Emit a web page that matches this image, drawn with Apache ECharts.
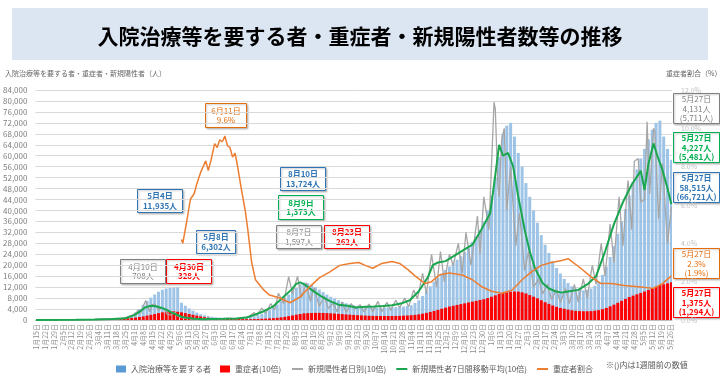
<!DOCTYPE html>
<html>
<head>
<meta charset="utf-8">
<script src="https://cdn.jsdelivr.net/npm/echarts@6/dist/echarts.min.js"></script>
<style>
  html, body { margin: 0; padding: 0; background: #fff; }
  #chart { width: 720px; height: 376px; }
</style>
</head>
<body>
<div id="chart"></div>
<script>
const startDate = '2020-01-15';
const endDate = '2021-05-27';

// 入院治療等を要する者: one reading every 3 days from startDate
const barStep = 3;
const hospitalized = [
  0, 0, 0, 10, 15, 20, 20, 25, 30, 40, 60, 80, 120, 150, 180, 220, 260, 300, 350, 400, 450, 550, 650, 800, 1000,
  1800, 2800, 4000, 5500, 7000, 8200, 9300, 10300, 11000, 11500, 11700, 11800, 11935,
  6302, 5200, 4200, 3400, 2700, 2100, 1700, 1400, 1150, 1000, 900, 850, 800, 780, 780, 800, 850, 950, 1100,
  1400, 1800, 2300, 2900, 3600, 4500, 5700, 6900, 8100, 9300, 10500, 11700, 13000, 13700,
  13400, 12800, 12000, 11100, 10200, 9300, 8500, 7800, 7200, 6600, 6100, 5700, 5400, 5100, 4900, 4800, 4700, 4600, 4500, 4500,
  4500, 4600, 4600, 4700, 4800, 4900, 5100, 5400, 6200, 7200,
  8800, 10500, 12300, 14000, 15500, 17000, 18300, 19500, 20700, 22000, 23300, 24800, 26500, 28500, 30500, 33000, 36000,
  40000, 45500, 52000, 59500, 68000, 71000, 72000,
  67000, 61000, 56000, 50000, 45000, 40000, 35500, 31000, 27500, 24500,
  21500, 19000, 17000, 15000, 13500, 12300, 11500, 11000, 10800, 11000,
  11500, 12500, 14000, 16500, 19500, 23000, 27000, 31500, 36000, 40500,
  45500, 50500, 55000, 59000, 62500, 66000, 69500, 72000, 72800, 67000,
  62500, 58515
];

// 重症者 (drawn x10), same 3-day steps
const severe = [
  0, 0, 0, 0, 0, 0, 0, 0, 1, 2, 4, 6, 10, 13, 17, 20, 25, 30, 35, 40, 45, 50, 55, 60, 65,
  75, 90, 110, 130, 160, 190, 220, 250, 280, 305, 325, 320, 300,
  280, 250, 220, 190, 160, 130, 105, 85, 72, 63, 57, 52, 47, 42, 38, 35, 33, 32, 32,
  34, 38, 43, 50, 58, 68, 80, 95, 115, 140, 165, 195, 220, 240,
  250, 256, 260, 262, 258, 252, 244, 235, 225, 215, 205, 195, 185, 175, 168, 160, 155, 150, 148, 146,
  145, 145, 146, 148, 152, 158, 165, 175, 188, 205,
  230, 260, 295, 330, 370, 410, 450, 490, 520, 550, 580, 610, 640, 670, 700, 730, 760,
  800, 850, 900, 950, 990, 1010, 1030,
  1040, 1035, 1010, 970, 910, 850, 790, 720, 650, 590,
  530, 480, 440, 410, 380, 355, 335, 325, 320, 320,
  325, 340, 360, 395, 440, 500, 560, 630, 700, 770,
  840, 890, 940, 990, 1040, 1100, 1160, 1220, 1280, 1305,
  1340, 1375
];

// 新規陽性者日別 (drawn x10)
const dailyNew = [
  ['2020-01-15', 1], ['2020-01-24', 1], ['2020-01-30', 3], ['2020-02-05', 5], ['2020-02-13', 5], ['2020-02-20', 12],
  ['2020-02-26', 15], ['2020-03-01', 20], ['2020-03-05', 35], ['2020-03-09', 30], ['2020-03-13', 45], ['2020-03-17', 30],
  ['2020-03-21', 50], ['2020-03-24', 70], ['2020-03-27', 120], ['2020-03-30', 170], ['2020-04-02', 240], ['2020-04-04', 360],
  ['2020-04-06', 250], ['2020-04-08', 510], ['2020-04-10', 708], ['2020-04-11', 700], ['2020-04-13', 300], ['2020-04-15', 550],
  ['2020-04-17', 580], ['2020-04-20', 370], ['2020-04-22', 440], ['2020-04-24', 430], ['2020-04-27', 200], ['2020-04-30', 190],
  ['2020-05-02', 290], ['2020-05-04', 180], ['2020-05-07', 100], ['2020-05-10', 80], ['2020-05-13', 60], ['2020-05-16', 40],
  ['2020-05-20', 30], ['2020-05-25', 25], ['2020-05-29', 60], ['2020-06-02', 50], ['2020-06-06', 40], ['2020-06-10', 40],
  ['2020-06-14', 70], ['2020-06-18', 50], ['2020-06-22', 60], ['2020-06-26', 100], ['2020-06-29', 90], ['2020-07-02', 200],
  ['2020-07-04', 270], ['2020-07-06', 180], ['2020-07-10', 430], ['2020-07-13', 250], ['2020-07-17', 600], ['2020-07-20', 370],
  ['2020-07-23', 980], ['2020-07-27', 600], ['2020-07-31', 1580], ['2020-08-03', 960], ['2020-08-07', 1597], ['2020-08-10', 820],
  ['2020-08-14', 1360], ['2020-08-17', 680], ['2020-08-20', 1180], ['2020-08-24', 500], ['2020-08-28', 860], ['2020-08-31', 430],
  ['2020-09-04', 600], ['2020-09-07', 300], ['2020-09-11', 660], ['2020-09-14', 280], ['2020-09-18', 600], ['2020-09-21', 400],
  ['2020-09-25', 560], ['2020-09-28', 300], ['2020-10-02', 580], ['2020-10-05', 300], ['2020-10-09', 680], ['2020-10-12', 300],
  ['2020-10-16', 650], ['2020-10-19', 360], ['2020-10-23', 720], ['2020-10-26', 450], ['2020-10-30', 800], ['2020-11-02', 480],
  ['2020-11-06', 1100], ['2020-11-09', 770], ['2020-11-13', 1700], ['2020-11-16', 950], ['2020-11-20', 2400], ['2020-11-24', 1200],
  ['2020-11-27', 2500], ['2020-11-30', 1400], ['2020-12-04', 2400], ['2020-12-07', 2000], ['2020-12-11', 2800], ['2020-12-14', 1700],
  ['2020-12-17', 3200], ['2020-12-21', 2000], ['2020-12-26', 3800], ['2020-12-28', 2400], ['2020-12-31', 4500], ['2021-01-04', 3300],
  ['2021-01-08', 7955], ['2021-01-09', 7700], ['2021-01-11', 4900], ['2021-01-12', 4500], ['2021-01-14', 6600], ['2021-01-16', 7000],
  ['2021-01-18', 4000], ['2021-01-21', 5600], ['2021-01-25', 2700], ['2021-01-28', 3900], ['2021-02-01', 1800], ['2021-02-04', 2500],
  ['2021-02-08', 1200], ['2021-02-12', 1500], ['2021-02-15', 950], ['2021-02-19', 1300], ['2021-02-22', 750], ['2021-02-26', 1100],
  ['2021-03-01', 650], ['2021-03-05', 1150], ['2021-03-08', 600], ['2021-03-12', 1300], ['2021-03-15', 650], ['2021-03-19', 1500],
  ['2021-03-22', 800], ['2021-03-26', 2000], ['2021-03-29', 1300], ['2021-04-02', 2800], ['2021-04-05', 1600], ['2021-04-09', 3500],
  ['2021-04-12', 2100], ['2021-04-16', 4500], ['2021-04-19', 2700], ['2021-04-23', 5100], ['2021-04-26', 3300], ['2021-04-28', 5800],
  ['2021-05-01', 5900], ['2021-05-03', 4300], ['2021-05-06', 4400], ['2021-05-08', 7244], ['2021-05-10', 4600], ['2021-05-13', 7000],
  ['2021-05-14', 6900], ['2021-05-17', 3700], ['2021-05-20', 5711], ['2021-05-21', 5700], ['2021-05-24', 2800], ['2021-05-27', 4131]
];

// 新規陽性者7日間移動平均 (drawn x10)
const weeklyAvg = [
  ['2020-01-15', 0], ['2020-02-15', 7], ['2020-03-01', 15], ['2020-03-15', 35], ['2020-03-25', 60], ['2020-04-01', 180],
  ['2020-04-05', 300], ['2020-04-10', 470], ['2020-04-14', 520], ['2020-04-18', 500], ['2020-04-22', 450], ['2020-04-26', 380],
  ['2020-04-30', 280], ['2020-05-04', 200], ['2020-05-08', 120], ['2020-05-12', 80], ['2020-05-18', 45], ['2020-05-25', 30],
  ['2020-06-01', 40], ['2020-06-10', 45], ['2020-06-20', 55], ['2020-06-28', 90], ['2020-07-05', 200], ['2020-07-12', 330],
  ['2020-07-19', 500], ['2020-07-26', 800], ['2020-08-02', 1100], ['2020-08-06', 1320], ['2020-08-09', 1373], ['2020-08-13', 1280],
  ['2020-08-18', 1100], ['2020-08-25', 880], ['2020-09-01', 700], ['2020-09-08', 560], ['2020-09-15', 520], ['2020-09-22', 460],
  ['2020-09-29', 480], ['2020-10-06', 490], ['2020-10-13', 510], ['2020-10-20', 540], ['2020-10-27', 600], ['2020-11-03', 720],
  ['2020-11-10', 1050], ['2020-11-17', 1550], ['2020-11-21', 2000], ['2020-11-25', 2100], ['2020-12-01', 2150], ['2020-12-08', 2350],
  ['2020-12-15', 2550], ['2020-12-22', 2750], ['2020-12-29', 3300], ['2021-01-05', 3900], ['2021-01-09', 5300], ['2021-01-12', 6400],
  ['2021-01-15', 6000], ['2021-01-19', 6100], ['2021-01-23', 5600], ['2021-01-27', 4500], ['2021-02-01', 3300], ['2021-02-05', 2500],
  ['2021-02-09', 1900], ['2021-02-15', 1350], ['2021-02-20', 1150], ['2021-02-25', 1050], ['2021-03-02', 1000], ['2021-03-08', 1050],
  ['2021-03-15', 1100], ['2021-03-22', 1300], ['2021-03-29', 1600], ['2021-04-05', 2500], ['2021-04-12', 3500], ['2021-04-19', 4300],
  ['2021-04-26', 4950], ['2021-05-01', 5300], ['2021-05-03', 5450], ['2021-05-06', 4750], ['2021-05-09', 5700], ['2021-05-13', 6450],
  ['2021-05-16', 6000], ['2021-05-20', 5481], ['2021-05-24', 4800], ['2021-05-27', 4227]
];

// 重症者割合 (%)
const severeRate = [
  ['2020-05-08', 4.2], ['2020-05-09', 4.0], ['2020-05-12', 5.1], ['2020-05-15', 6.3], ['2020-05-18', 6.6], ['2020-05-20', 7.1],
  ['2020-05-23', 7.7], ['2020-05-25', 8.0], ['2020-05-27', 8.3], ['2020-05-29', 7.8], ['2020-05-31', 8.3], ['2020-06-03', 9.2],
  ['2020-06-05', 9.0], ['2020-06-07', 9.4], ['2020-06-09', 9.3], ['2020-06-11', 9.6], ['2020-06-13', 9.1], ['2020-06-15', 9.0],
  ['2020-06-17', 8.5], ['2020-06-19', 8.7], ['2020-06-21', 8.0], ['2020-06-24', 6.8], ['2020-06-27', 5.7], ['2020-06-29', 4.7],
  ['2020-07-02', 3.0], ['2020-07-05', 2.1], ['2020-07-11', 1.6], ['2020-07-16', 1.3], ['2020-07-24', 1.15], ['2020-08-01', 0.9],
  ['2020-08-09', 1.2], ['2020-08-16', 1.7], ['2020-08-24', 2.2], ['2020-09-01', 2.5], ['2020-09-09', 2.85], ['2020-09-17', 2.95],
  ['2020-09-24', 3.0], ['2020-09-29', 2.85], ['2020-10-05', 2.7], ['2020-10-12', 2.95], ['2020-10-20', 3.05], ['2020-10-26', 2.95],
  ['2020-11-02', 2.6], ['2020-11-07', 2.3], ['2020-11-15', 1.9], ['2020-11-20', 2.0], ['2020-11-26', 2.35], ['2020-12-04', 2.45],
  ['2020-12-14', 2.35], ['2020-12-22', 2.1], ['2020-12-29', 1.75], ['2021-01-06', 1.5], ['2021-01-14', 1.4], ['2021-01-22', 1.55],
  ['2021-01-30', 2.1], ['2021-02-06', 2.5], ['2021-02-14', 2.85], ['2021-02-22', 3.0], ['2021-03-02', 3.1], ['2021-03-07', 3.2],
  ['2021-03-17', 2.7], ['2021-03-25', 2.25], ['2021-04-02', 1.9], ['2021-04-10', 1.9], ['2021-04-20', 1.8], ['2021-05-01', 1.73],
  ['2021-05-13', 1.65], ['2021-05-20', 1.9], ['2021-05-27', 2.3]
];

const seriesNames = ['入院治療等を要する者', '重症者(10倍)', '新規陽性者日別(10倍)', '新規陽性者7日間移動平均(10倍)', '重症者割合'];

// annotation boxes: [x, y, w, h, text, color, bold]
const notes = [
  [205, 103, 41, 24, '6月11日\n9.6%', '#e46c0a', false],
  [137, 189, 45, 23, '5月4日\n11,935人', '#2e75b6', true],
  [196, 230, 39, 23, '5月8日\n6,302人', '#2e75b6', true],
  [120, 259, 45, 24, '4月10日\n708人', '#7f7f7f', false],
  [166, 259, 45, 24, '4月30日\n328人', '#ff0000', true],
  [280, 167, 45, 23, '8月10日\n13,724人', '#2e75b6', true],
  [278, 195, 45, 24, '8月9日\n1,373人', '#00b050', true],
  [276, 225, 45, 23, '8月7日\n1,597人', '#7f7f7f', false],
  [324, 225, 45, 23, '8月23日\n262人', '#ff0000', true],
  [673, 93, 46, 30, '5月27日\n4,131人\n(5,711人)', '#7f7f7f', false],
  [673, 132, 46, 30, '5月27日\n4,227人\n(5,481人)', '#00b050', true],
  [673, 172, 46, 30, '5月27日\n58,515人\n(66,721人)', '#2e75b6', true],
  [673, 248, 46, 30, '5月27日\n2.3%\n(1.9%)', '#e46c0a', false],
  [673, 287, 46, 30, '5月27日\n1,375人\n(1,294人)', '#ff0000', true]
];

const DAY = 86400000;
const t0 = Date.parse(startDate + 'T00:00:00Z');
const t1 = Date.parse(endDate + 'T00:00:00Z');
const days = [];
for (let t = t0; t <= t1; t += DAY) days.push(new Date(t).toISOString().slice(0, 10));
const idx = (d) => Math.round((Date.parse(d + 'T00:00:00Z') - t0) / DAY);

const font = '"Noto Sans CJK JP", "Noto Sans", sans-serif';
const chart = echarts.init(document.getElementById('chart'));

const noteGraphics = notes.map(([x, y, w, h, text, color, bold]) => ({
  type: 'group',
  left: x,
  top: y,
  z: 100,
  children: [
    {
      type: 'rect',
      shape: { x: 0, y: 0, width: w, height: h },
      style: { fill: '#fff', stroke: color, lineWidth: 1, shadowBlur: 2, shadowOffsetX: 1, shadowOffsetY: 1, shadowColor: 'rgba(0,0,0,0.25)' }
    },
    {
      type: 'text',
      x: w / 2,
      y: h / 2,
      style: {
        text: text,
        fill: color,
        font: (bold ? 'bold ' : '') + '8px ' + font,
        align: 'center',
        verticalAlign: 'middle',
        lineHeight: 9.5
      }
    }
  ]
}));

const legendText = { fontSize: 8, color: '#595959' };

const option = {
  animation: false,
  textStyle: { fontFamily: font },
  grid: { left: 31, right: 48, top: 90, bottom: 56 },
  legend: [
    {
      left: 111,
      top: 360,
      itemWidth: 10,
      itemHeight: 7,
      itemGap: 9,
      icon: 'rect',
      textStyle: legendText,
      data: [
        { name: seriesNames[0], itemStyle: { color: '#5b9bd5' } },
        { name: seriesNames[1] }
      ]
    },
    {
      left: 287,
      top: 360,
      itemWidth: 11,
      itemHeight: 2,
      itemGap: 10,
      icon: 'rect',
      textStyle: legendText,
      data: [seriesNames[2], seriesNames[3], seriesNames[4]]
    }
  ],
  xAxis: {
    type: 'category',
    data: days,
    axisLine: { lineStyle: { color: '#bfbfbf' } },
    axisTick: { show: false },
    axisLabel: {
      interval: 6,
      rotate: 90,
      fontSize: 7,
      color: '#8c8c8c',
      margin: 4,
      formatter: (v) => +v.slice(5, 7) + '月' + +v.slice(8, 10) + '日'
    }
  },
  yAxis: [
    {
      type: 'value',
      min: 0,
      max: 84000,
      interval: 4000,
      axisLine: { show: false },
      axisTick: { show: false },
      axisLabel: { fontSize: 8, color: '#7f7f7f', margin: 8, formatter: (v) => v.toLocaleString('en-US') },
      splitLine: { lineStyle: { color: '#d9d9d9' } }
    },
    {
      type: 'value',
      min: 0,
      max: 12,
      interval: 2,
      axisLine: { show: false },
      axisTick: { show: false },
      axisLabel: { fontSize: 7, color: '#bfbfbf', margin: 9, formatter: (v) => v.toFixed(1) + '%' },
      splitLine: { show: false }
    }
  ],
  series: [
    {
      name: seriesNames[0],
      type: 'bar',
      barWidth: 3,
      barGap: '-100%',
      itemStyle: { color: '#9dc3e6' },
      data: hospitalized.map((v, i) => [i * barStep, v]),
      z: 1
    },
    {
      name: seriesNames[1],
      type: 'bar',
      barWidth: 3,
      barGap: '-100%',
      itemStyle: { color: '#ff0000' },
      data: severe.map((v, i) => [i * barStep, v * 10]),
      z: 2
    },
    {
      name: seriesNames[2],
      type: 'line',
      symbol: 'none',
      lineStyle: { color: '#a6a6a6', width: 1.3 },
      itemStyle: { color: '#a6a6a6' },
      data: dailyNew.map(([d, v]) => [idx(d), v * 10]),
      z: 3
    },
    {
      name: seriesNames[3],
      type: 'line',
      symbol: 'none',
      lineStyle: { color: '#1aa64f', width: 2 },
      itemStyle: { color: '#1aa64f' },
      data: weeklyAvg.map(([d, v]) => [idx(d), v * 10]),
      z: 4
    },
    {
      name: seriesNames[4],
      type: 'line',
      yAxisIndex: 1,
      symbol: 'none',
      lineStyle: { color: '#ed7d31', width: 1.5 },
      itemStyle: { color: '#ed7d31' },
      data: severeRate.map(([d, v]) => [idx(d), v]),
      z: 5
    }
  ],
  graphic: [
    {
      type: 'rect',
      shape: { x: 12, y: 8, width: 696, height: 52 },
      style: { fill: '#dce6f2' },
      z: 0
    },
    {
      type: 'text',
      x: 360,
      y: 36,
      style: {
        text: '入院治療等を要する者・重症者・新規陽性者数等の推移',
        font: 'bold 21px ' + font,
        fill: '#000',
        align: 'center',
        verticalAlign: 'middle'
      }
    },
    {
      type: 'text',
      x: 5,
      y: 73,
      style: { text: '入院治療等を要する者・重症者・新規陽性者（人）', font: '7px ' + font, fill: '#666', verticalAlign: 'middle' }
    },
    {
      type: 'text',
      x: 666,
      y: 73,
      style: { text: '重症者割合（%）', font: '7px ' + font, fill: '#666', verticalAlign: 'middle' }
    },
    {
      type: 'text',
      x: 606,
      y: 365,
      style: { text: '※()内は1週間前の数値', font: '8px ' + font, fill: '#595959', verticalAlign: 'middle' }
    }
  ].concat(noteGraphics)
};

chart.setOption(option);
</script>
</body>
</html>
